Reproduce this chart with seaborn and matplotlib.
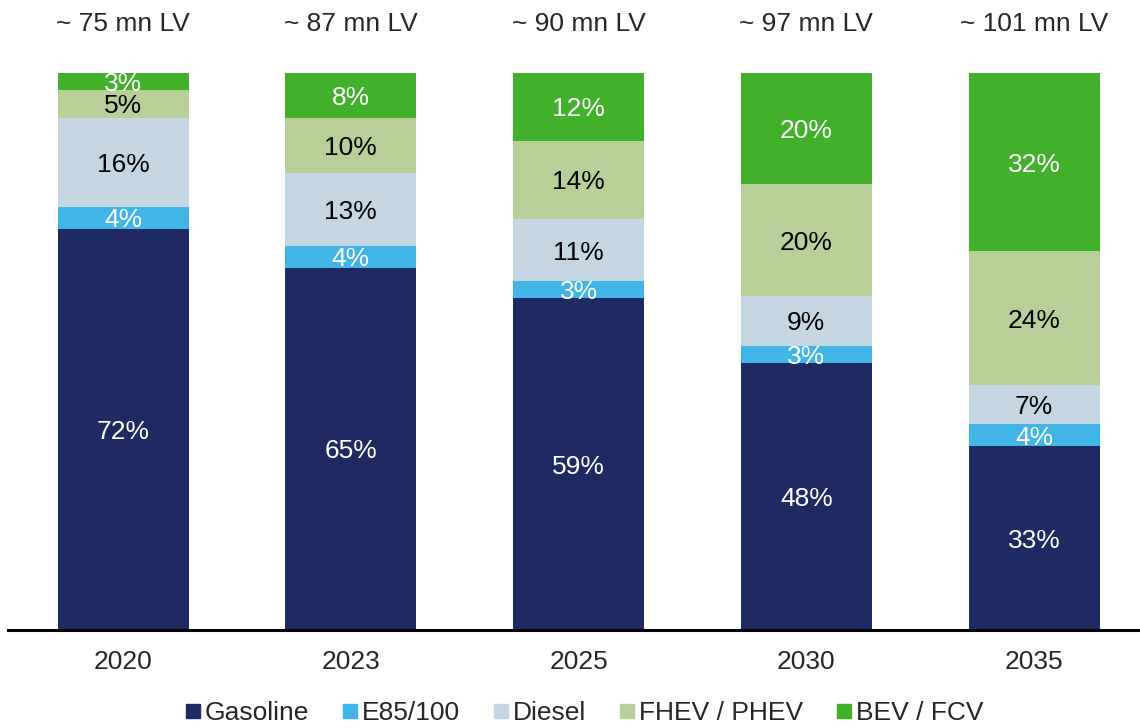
import numpy as np
import pandas as pd
import seaborn as sns
import matplotlib.pyplot as plt
from matplotlib.lines import Line2D

years = ['2020', '2023', '2025', '2030', '2035']
totals = ['~ 75 mn LV', '~ 87 mn LV', '~ 90 mn LV', '~ 97 mn LV', '~ 101 mn LV']
gasoline = [72, 65, 59, 48, 33]
e85 = [4, 4, 3, 3, 4]
diesel = [16, 13, 11, 9, 7]
fhev = [5, 10, 14, 20, 24]
bev = [3, 8, 12, 20, 32]

series = ['Gasoline', 'E85/100', 'Diesel', 'FHEV / PHEV', 'BEV / FCV']
colors = ['#1f2a63', '#41b6e6', '#c5d5e2', '#b8d098', '#42b02a']
text_colors = ['white', 'white', 'black', 'black', 'white']

sns.set_style('white')
plt.rcParams['font.family'] = ['Liberation Sans', 'DejaVu Sans']

df = pd.DataFrame({'Gasoline': gasoline, 'E85/100': e85, 'Diesel': diesel,
                   'FHEV / PHEV': fhev, 'BEV / FCV': bev}, index=years)
# bars fill to 100% even where the rounded labels don't add up
shares = df.div(df.sum(axis=1), axis=0) * 100

fig = plt.figure(figsize=(11.4, 7.28), dpi=100)
ax = fig.add_axes([8 / 1140, 98 / 728, 1132 / 1140, 557 / 728])

bottom = np.zeros(len(years))
for s, c, tc in zip(series, colors, text_colors):
    vals = shares[s].values
    sns.barplot(x=years, y=vals, bottom=bottom, color=c, width=0.575,
                ax=ax, saturation=1, linewidth=0)
    for i, (v, lab) in enumerate(zip(vals, df[s].values)):
        ax.text(i, bottom[i] + v / 2, f'{lab}%', ha='center',
                va='center_baseline', color=tc, fontsize=19)
    bottom = bottom + vals

for i, t in enumerate(totals):
    ax.text(i, 108.8, t, ha='center', va='center', fontsize=19,
            clip_on=False)

ax.set_xlim(-0.505, 4.465)
ax.set_ylim(0, 100)
ax.set_yticks([])
ax.set_ylabel('')
sns.despine(ax=ax, left=True)
ax.spines['bottom'].set_linewidth(2.2)
ax.spines['bottom'].set_color('black')
ax.tick_params(axis='x', length=0, labelsize=19, pad=14.5)

handles = [Line2D([], [], marker='s', linestyle='', color=c, markersize=10)
           for c in colors]
fig.legend(handles, series, loc='lower center', ncol=5, frameon=False,
           fontsize=19, bbox_to_anchor=(0.512, -0.0145), handletextpad=0.1,
           columnspacing=1.2, handlelength=0.7, borderpad=0)

fig.savefig('out.png', dpi=100)
